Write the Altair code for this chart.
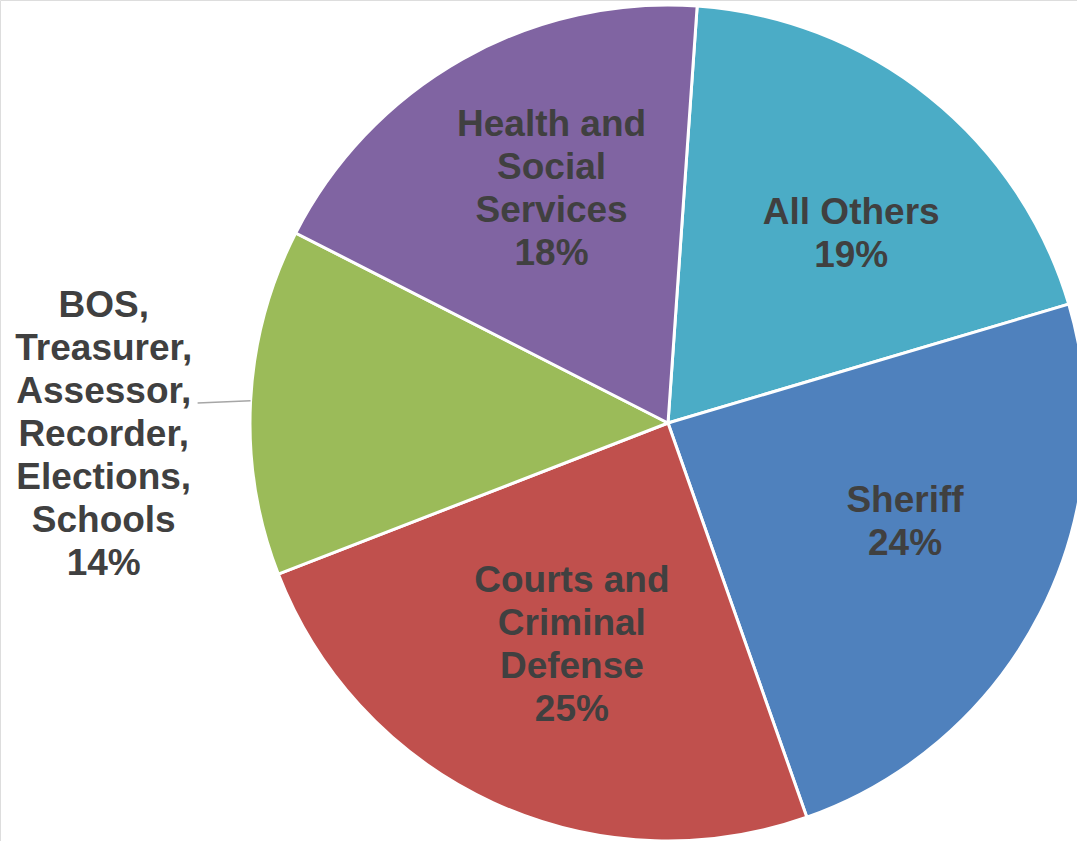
import math
import altair as alt
import pandas as pd

categories = ["All Others", "Sheriff", "Courts and Criminal Defense",
              "BOS, Treasurer, Assessor, Recorder, Elections, Schools",
              "Health and Social Services"]
values = [19.3, 24.2, 24.5, 13.4, 18.6]
labels = ["All Others\n19%", "Sheriff\n24%", "Courts and\nCriminal\nDefense\n25%",
          "BOS,\nTreasurer,\nAssessor,\nRecorder,\nElections,\nSchools\n14%",
          "Health and\nSocial\nServices\n18%"]
colors = ["#4BACC6", "#4F81BD", "#C0504D", "#9BBB59", "#8064A2"]

df = pd.DataFrame({"category": categories, "value": values, "label": labels,
                   "order": list(range(len(categories)))})

CX, CY, R = 668, 423, 418
START = math.radians(4.0)
LH = 43

base = alt.Chart(df)

pie = base.mark_arc(radius=R, stroke="white", strokeWidth=3).encode(
    theta=alt.Theta("value:Q", stack=True,
                    scale=alt.Scale(range=[START, START + 2 * math.pi])),
    color=alt.Color("category:N", scale=alt.Scale(domain=categories, range=colors),
                    legend=None),
    order=alt.Order("order:Q"),
    x=alt.value(CX), y=alt.value(CY),
)

angled = base.transform_joinaggregate(total="sum(value)").transform_window(
    cum="sum(value)", sort=[alt.SortField("order")]
).transform_calculate(
    mid=f"{START} + 2*PI*(datum.cum - datum.value/2)/datum.total",
    lines="split(datum.label, '\\n')",
)

# label radius and pixel nudges per category
label_specs = {
    "All Others": (264, 18, 17),
    "Sheriff": (256, 9, -17),
    "Courts and Criminal Defense": (242, 5, 3),
    "BOS, Treasurer, Assessor, Recorder, Elections, Schools": (565, 0, 41),
    "Health and Social Services": (263, 13, -5),
}

text_layers = []
for cat, (r, ddx, ddy) in label_specs.items():
    n = labels[categories.index(cat)].count("\n") + 1
    t = angled.transform_filter(alt.datum.category == cat).transform_calculate(
        lx=f"{CX} + {r}*sin(datum.mid)",
        ly=f"{CY} - {r}*cos(datum.mid)",
    ).mark_text(
        font="Liberation Sans", fontWeight="bold", fontSize=37, lineHeight=LH,
        color="#404040", align="center", baseline="middle", dx=ddx,
        dy=ddy - (n - 1) * LH / 2,
    ).encode(
        x=alt.X("lx:Q", scale=None), y=alt.Y("ly:Q", scale=None),
        text=alt.Text("lines:N"),
    )
    text_layers.append(t)

leader = angled.transform_filter(
    alt.datum.category == categories[3]
).transform_calculate(
    x1=f"{CX} + {R}*sin(datum.mid)",
    y1=f"{CY} - {R}*cos(datum.mid) - 1",
    x2=f"{CX} + {R + 53}*sin(datum.mid)",
    y2=f"{CY} - {R + 53}*cos(datum.mid) + 4",
).mark_rule(color="#A6A6A6", strokeWidth=1.5).encode(
    x=alt.X("x1:Q", scale=None), y=alt.Y("y1:Q", scale=None),
    x2="x2:Q", y2="y2:Q",
)

chart = alt.layer(pie, leader, *text_layers).properties(
    width=1077, height=841, padding=0,
    autosize=alt.AutoSizeParams(type="none"),
).configure_view(stroke=None, strokeWidth=0).configure(background="white")

chart.save("out.html", embed_options={"renderer": "svg", "actions": False})
